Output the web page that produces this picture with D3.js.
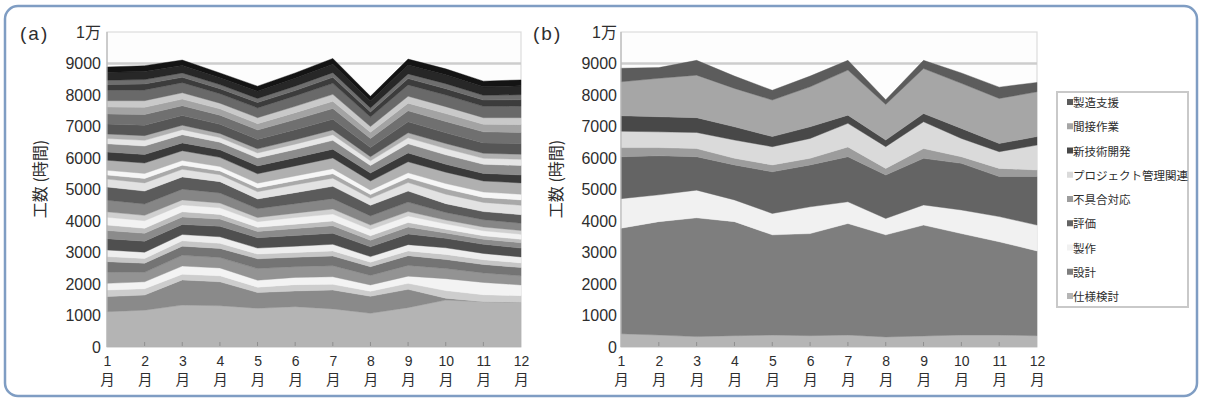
<!DOCTYPE html>
<html><head><meta charset="utf-8">
<script src="https://cdn.jsdelivr.net/npm/d3@7/dist/d3.min.js"></script>
<style>body{margin:0;background:#fff}svg{display:block}</style>
</head><body>
<svg id="chart" width="1205" height="408"></svg>
<script>
// ---------- shared axes data ----------
const months = [1,2,3,4,5,6,7,8,9,10,11,12];
const monthLabels = ["1","2","3","4","5","6","7","8","9","10","11","12"];
const monthSuffix = "月";
const yTicks = [0,1000,2000,3000,4000,5000,6000,7000,8000,9000,10000];
const yTickLabels = ["0","1000","2000","3000","4000","5000","6000","7000","8000","9000","1万"];
const yTitle = "工数 (時間)";

// ---------- panel (b): 9 categories, bottom -> top ----------
const seriesB = ["仕様検討","設計","製作","評価","不具合対応","プロジェクト管理関連","新技術開発","間接作業","製造支援"];
const bShiyo   = [420,380,330,360,380,360,380,320,350,380,380,360];
const bSekkei  = [3350,3600,3770,3620,3180,3240,3540,3240,3520,3220,2960,2690];
const bSeisaku = [940,850,880,690,680,850,690,520,640,750,800,820];
const bHyoka   = [1330,1240,1060,1110,1320,1330,1430,1380,1480,1480,1270,1540];
const bFuguai  = [290,260,260,210,220,210,310,210,310,210,260,210];
const bPJ      = [520,500,510,580,580,630,750,690,850,580,530,790];
const bShingi  = [490,480,470,420,320,370,260,210,260,320,260,270];
const bKansetsu= [1080,1220,1350,1220,1160,1270,1430,1130,1430,1430,1430,1420];
const bSeizo   = [430,340,470,390,310,340,310,150,260,330,360,300];
const valuesB = [bShiyo,bSekkei,bSeisaku,bHyoka,bFuguai,bPJ,bShingi,bKansetsu,bSeizo];
const colorsB = ["#b5b5b5","#7e7e7e","#f1f1f1","#646464","#9c9c9c","#dadada","#484848","#a6a6a6","#5c5c5c"];

// ---------- panel (a): many detailed tasks, bottom -> top ----------
const a01 = [1120,1170,1330,1310,1230,1280,1210,1070,1250,1490,1440,1420];
const a02 = [480,480,800,760,500,500,600,540,580,60,0,0];
const a03 = [210,200,180,190,170,200,180,160,190,240,220,210];
const a04 = [210,220,260,250,220,230,240,200,230,380,390,340];
const a05 = [360,300,340,330,370,340,350,300,340,320,300,290];
const a06 = [330,290,290,290,310,300,310,280,310,290,270,260];
const a07 = [160,150,170,160,150,150,160,140,150,160,150,150];
const a08 = [210,200,200,210,190,200,210,180,200,210,200,190];
const a09 = [360,350,320,330,330,340,350,310,340,300,290,280];
const a10 = [260,250,240,230,200,220,240,210,220,170,160,170];
const a11 = [170,160,160,150,130,140,150,140,140,120,110,110];
const a12 = [250,240,220,210,180,210,220,200,210,170,160,160];
const a13 = [170,170,160,150,130,140,160,140,140,120,120,120];
const a14 = [370,360,340,320,280,300,330,290,300,240,230,230];
const a15 = [420,410,390,360,310,350,390,340,350,280,260,270];
const a16 = [250,260,240,220,230,250,260,220,270,300,290,300];
const a17 = [130,140,130,120,120,130,140,120,150,170,160,170];
const a18 = [150,160,150,140,150,150,160,140,160,170,170,180];
const a19 = [320,330,310,290,300,320,340,290,350,360,350,360];
const a20 = [260,270,250,240,250,260,280,250,280,250,240,250];
const a21 = [260,270,260,240,250,260,280,240,290,300,290,300];
const a22 = [170,180,160,150,160,170,180,150,190,200,190,200];
const a23 = [140,150,140,130,130,140,150,130,160,160,160,160];
const a24 = [320,330,310,290,300,320,340,290,350,340,330,340];
const a25 = [320,340,310,290,300,320,340,290,350,360,350,350];
const a26 = [220,230,210,200,200,220,230,200,240,250,240,250];
const a27 = [200,210,200,180,190,200,220,180,220,220,210,220];
const a28 = [330,340,320,300,310,330,350,300,360,370,360,370];
const a29 = [180,190,170,160,170,170,190,160,200,200,200,200];
const a30 = [140,140,140,130,130,140,150,130,150,160,150,160];
const a31 = [250,260,240,220,230,250,270,220,280,280,270,280];
const a32 = [170,180,170,150,160,170,180,150,190,190,180,190];
const valuesA = [a01,a02,a03,a04,a05,a06,a07,a08,a09,a10,a11,a12,a13,a14,a15,a16,
                 a17,a18,a19,a20,a21,a22,a23,a24,a25,a26,a27,a28,a29,a30,a31,a32];
const colorsA = ["#b4b4b4","#8a8a8a","#cdcdcd","#f3f3f3","#939393","#747474","#c6c6c6","#eeeeee",
                 "#4f4f4f","#8b8b8b","#bdbdbd","#f2f2f2","#d0d0d0","#868686","#5b5b5b","#e2e2e2",
                 "#a9a9a9","#f6f6f6","#b0b0b0","#3a3a3a","#8c8c8c","#e6e6e6","#b0b0b0","#565656",
                 "#707070","#a3a3a3","#c9c9c9","#696969","#3c3c3c","#6e6e6e","#272727","#141414"];

// ---------- drawing ----------
const svg = d3.select("#chart");
const FONT_NUM = "'Liberation Sans','Noto Sans CJK JP',sans-serif";
const FONT_JP = "'Noto Sans CJK JP','Noto Sans',sans-serif";
const TXT = "#2e2e2e";

svg.append("rect").attr("x",5).attr("y",6).attr("width",1192).attr("height",390)
  .attr("rx",13).attr("fill","#fff").attr("stroke","#7f9dc3").attr("stroke-width",2.5);

const yTop = 32, yBot = 347;
const y = d3.scaleLinear().domain([0,10000]).range([yBot,yTop]);

function panel(keys, valueArrays, colors, x0, x1, label, labelX, titleX, labelPad) {
  const x = d3.scaleLinear().domain([1,12]).range([x0,x1]);
  const table = months.map((m,i) => {
    const row = {month:m};
    keys.forEach((k,j) => row[k] = valueArrays[j][i]);
    return row;
  });
  const stacked = d3.stack().keys(keys)(table);
  const g = svg.append("g");

  g.append("rect").attr("x",x0).attr("y",yTop).attr("width",x1-x0).attr("height",yBot-yTop)
    .attr("fill","#fdfdfd").attr("stroke","#dcdcdc").attr("stroke-width",1.2);
  g.append("line").attr("x1",x0).attr("x2",x1).attr("y1",y(9000)).attr("y2",y(9000))
    .attr("stroke","#cdcdcd").attr("stroke-width",2.5);

  const area = d3.area().x(d => x(d.data.month)).y0(d => y(d[0])).y1(d => y(d[1]));
  g.selectAll("path.layer").data(stacked).join("path").attr("class","layer")
    .attr("d",area).attr("fill",(d,i) => colors[i]).attr("stroke",(d,i)=>colors[i]).attr("stroke-width",0.4);

  g.append("line").attr("x1",x0).attr("x2",x0).attr("y1",yTop).attr("y2",yBot)
    .attr("stroke","#b8b8b8").attr("stroke-width",1.2);
  g.selectAll("line.mt").data(months.slice(1,11)).join("line").attr("class","mt")
    .attr("x1",d=>x(d)).attr("x2",d=>x(d)).attr("y1",yBot-5).attr("y2",yBot-1)
    .attr("stroke","#8f8f8f").attr("stroke-width",1);

  const ya = g.append("g").attr("transform",`translate(${x0},0)`)
    .call(d3.axisLeft(y).tickValues(yTicks).tickFormat((d,i)=>yTickLabels[i]).tickSize(0).tickPadding(labelPad));
  ya.select(".domain").remove();
  ya.selectAll("text").attr("font-family",FONT_NUM).attr("font-size",16).attr("fill",TXT);

  // x axis: numbers from the axis, "月" as a second label row
  const xa = g.append("g").attr("transform",`translate(0,${yBot})`)
    .call(d3.axisBottom(x).tickValues(months).tickFormat((d,i)=>monthLabels[i]).tickSize(0));
  xa.select(".domain").remove();
  xa.selectAll("text").attr("y",19).attr("dy",null).attr("font-family",FONT_NUM)
    .attr("font-size",14).attr("fill",TXT);
  xa.selectAll(".tick").append("text").attr("y",38).attr("text-anchor","middle")
    .attr("font-family",FONT_JP).attr("font-size",14.5).attr("fill",TXT).text(monthSuffix);

  svg.append("text").attr("x",labelX).attr("y",40).attr("font-family",FONT_NUM).attr("font-size",19)
    .attr("letter-spacing",2).attr("fill",TXT).text(label);
  svg.append("text").attr("transform",`translate(${titleX},179) rotate(-90)`).attr("text-anchor","middle")
    .attr("font-family",FONT_JP).attr("font-size",16).attr("fill",TXT).text(yTitle);
  return x;
}

panel(valuesA.map((_,i)=>"a"+i), valuesA, colorsA, 107, 521, "(a)", 20, 46, 6);
panel(seriesB, valuesB, colorsB, 621, 1037, "(b)", 533, 562, 4);

// legend (top -> bottom = top layer -> bottom layer)
const legendItems = seriesB.slice().reverse();
const legendColors = colorsB.slice().reverse();
const lg = svg.append("g");
lg.append("rect").attr("x",1057).attr("y",92).attr("width",131).attr("height",215)
  .attr("fill","#fff").attr("stroke","#c9c9c9").attr("stroke-width",2);
const ly = d3.scalePoint().domain(legendItems).range([103,297]);
lg.selectAll("rect.sw").data(legendItems).join("rect").attr("class","sw")
  .attr("x",1067).attr("y",d=>ly(d)-4).attr("width",6).attr("height",6)
  .attr("fill",(d,i)=>legendColors[i]);
lg.selectAll("text").data(legendItems).join("text")
  .attr("x",1073).attr("y",d=>ly(d)+4).attr("font-family",FONT_JP).attr("font-size",11.5)
  .attr("fill",TXT).text(d=>d);
</script>
</body></html>
